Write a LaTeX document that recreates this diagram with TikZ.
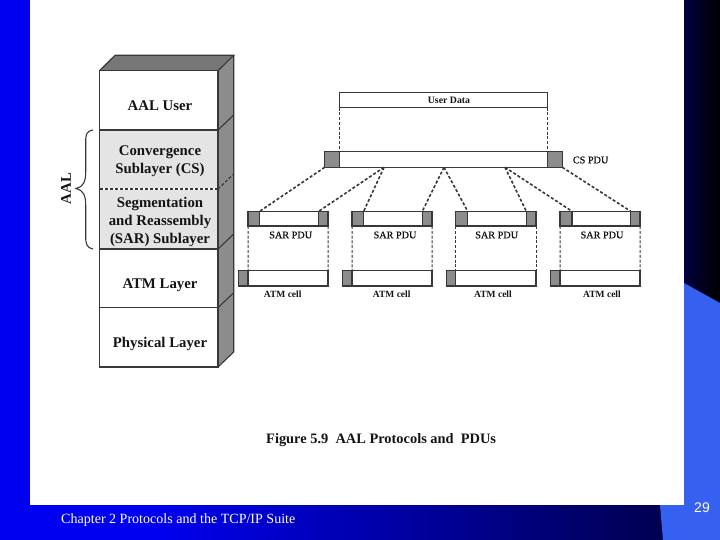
\documentclass[tikz,border=0pt]{standalone}
\usepackage{fontspec}
\setmainfont{Liberation Serif}
\newfontfamily\numfont{Liberation Sans}
\newfontfamily\medfont[FakeBold=0.6]{Liberation Serif}
\usetikzlibrary{calc}
\definecolor{slideblue}{HTML}{0000F0}
\definecolor{navy}{HTML}{000050}
\definecolor{panelblue}{HTML}{3560F0}
\definecolor{edgegray}{HTML}{383838}
\definecolor{sidegray}{HTML}{8C8C8C}
\definecolor{lightgray2}{HTML}{E4E4E4}
\definecolor{inkblack}{HTML}{141414}
\tikzset{
  rectnode/.style={draw=edgegray,line width=1.1pt,rectangle,inner sep=0pt,outer sep=0pt,anchor=center},
  whitebox/.style={rectnode,fill=white},
  graybox/.style={rectnode,fill=sidegray},
  sublayer/.style={rectnode,fill=lightgray2},
  dashline/.style={draw=edgegray,line width=1.6pt,dash pattern=on 3pt off 2pt},
  vdashline/.style={draw=edgegray,line width=1pt,dash pattern=on 3pt off 1.8pt},
  stacktext/.style={font=\fontsize{14.8}{18}\selectfont\bfseries,text=inkblack,inner sep=0pt,align=center},
  pdutext/.style={font=\fontsize{10.2}{12}\selectfont\medfont,text=inkblack,inner sep=0pt},
  celltext/.style={font=\fontsize{9.5}{12}\selectfont\bfseries,text=inkblack,inner sep=0pt},
  foottext/.style={text=white,inner sep=0pt}
}
\newcommand{\pdubox}[6]{%
  \pgfmathsetmacro{\pw}{#5-#3}\pgfmathsetmacro{\ph}{#6-#4}%
  \node[#2,minimum width=\pw pt,minimum height=\ph pt] (#1) at ({(#3+#5)/2},{(#4+#6)/2}) {};}
\begin{document}
\begin{tikzpicture}[x=1pt,y=-1pt]
\useasboundingbox (0,0) rectangle (720,540);
% slide background
\fill[white] (0,0) rectangle (720,540);
\fill[slideblue] (0,0) rectangle (30,540);
\fill[slideblue] (0,505) rectangle (150,540);
\shade[left color=slideblue,right color=navy,shading angle=90] (150,505) rectangle (665,540);
\shade[left color=navy!80!black,right color=black] (684,0) rectangle (720,305);
\fill[panelblue] (684,283) -- (720,303) -- (720,540) -- (663,540) -- (660,505) -- (684,505) -- cycle;
% stack sides
\fill[sidegray] (218,70.7) -- (233.7,55.3) -- (233.7,352) -- (218,367) -- cycle;
\fill[sidegray!85!black] (99.5,70.7) -- (115,55.3) -- (233.7,55.3) -- (218,70.7) -- cycle;
\draw[edgegray,line width=1.1pt] (99.5,70.7) -- (115,55.3) -- (233.7,55.3) -- (218,70.7);
\draw[edgegray,line width=1.1pt] (233.7,55.3) -- (233.7,352) -- (218,367);
\foreach \yy in {130,249,307.7} \draw[edgegray,line width=1.1pt] (218,\yy) -- (233.7,\yy-15);
% stack front
\pdubox{user}{whitebox}{99.5}{70.7}{218}{130}
\pdubox{convsub}{sublayer}{99.5}{130}{218}{189}
\pdubox{sarsub}{sublayer}{99.5}{189}{218}{249}
\pdubox{atmlayer}{whitebox}{99.5}{249}{218}{307.7}
\pdubox{phys}{whitebox}{99.5}{307.7}{218}{367}
\draw[white,line width=1.4pt] (convsub.south west) -- (convsub.south east);
\draw[dashline,line width=1.2pt] (convsub.south west) -- (convsub.south east);
\draw[dashline,line width=1.2pt] (convsub.south east) -- +(15.7,-15);
\node[stacktext] (tuser) at (160,105.5) {AAL User};
\node[stacktext] (tconv) at (160,161) {Convergence\\[-0.1pt]Sublayer (CS)};
\node[stacktext] (tsar) at (160,222) {Segmentation\\and Reassembly\\(SAR) Sublayer};
\node[stacktext] (tatm) at (160,285) {ATM Layer};
\node[stacktext] (tphys) at (160,344) {Physical Layer};
% brace
\draw[edgegray,line width=1.1pt] (93,130) .. controls (87,131) and (85.5,134) .. (85.7,142)
  -- (85.7,172) .. controls (85.7,182) and (83,187) .. (76,188.5)
  .. controls (83,190) and (85.7,195) .. (85.7,205)
  -- (85.7,236) .. controls (85.5,244) and (87,248) .. (93,249);
\node[stacktext,rotate=90] (taal) at (66,188.5) {AAL};
% user data and CS PDU
\pdubox{udata}{whitebox}{339.3}{92.3}{547.7}{107.7}
\node[font=\fontsize{9.8}{12}\selectfont\bfseries,text=inkblack,inner sep=0pt] (tudata) at (449,100.5) {User Data};
\pdubox{cspdu}{whitebox}{339.3}{151.7}{547.7}{167.3}
\pdubox{csl}{graybox}{324.7}{151.7}{339.3}{167.3}
\pdubox{csr}{graybox}{547.7}{151.7}{562.3}{167.3}
\node[pdutext,anchor=west] (tcs) at (572.7,160) {CS PDU};
\coordinate (csa) at (384,167.3);
\coordinate (csb) at (444,167.3);
\coordinate (csc) at (505,167.3);
\draw[vdashline] (udata.south west) -- (cspdu.north west);
\draw[vdashline] (udata.south east) -- (cspdu.north east);
% SAR PDUs
\pdubox{sarA}{whitebox}{248}{211.3}{328}{226}
\pdubox{sarAl}{graybox}{248}{211.3}{259.7}{226}
\pdubox{sarAr}{graybox}{318.7}{211.3}{328}{226}
\pdubox{sarB}{whitebox}{352}{211.3}{432}{226}
\pdubox{sarBl}{graybox}{352}{211.3}{363.7}{226}
\pdubox{sarBr}{graybox}{422.3}{211.3}{432}{226}
\pdubox{sarC}{whitebox}{455.7}{211.3}{536}{226}
\pdubox{sarCl}{graybox}{455.7}{211.3}{467.7}{226}
\pdubox{sarCr}{graybox}{526.3}{211.3}{536}{226}
\pdubox{sarD}{whitebox}{560}{211.3}{640}{226}
\pdubox{sarDl}{graybox}{560}{211.3}{572}{226}
\pdubox{sarDr}{graybox}{630.7}{211.3}{640}{226}
\node[pdutext] (tsarA) at (290.7,235) {SAR PDU};
\node[pdutext] (tsarB) at (395,235) {SAR PDU};
\node[pdutext] (tsarC) at (496.7,235) {SAR PDU};
\node[pdutext] (tsarD) at (602,235) {SAR PDU};
% connectors CS to SAR
\draw[dashline] (csl.south west) -- (sarAl.north east);
\draw[dashline] (csa) -- (sarAr.north west);
\draw[dashline] (csa) -- (sarBl.north east);
\draw[dashline] (csb) -- (sarBr.north west);
\draw[dashline] (csb) -- (sarCl.north east);
\draw[dashline] (csc) -- (sarCr.north west);
\draw[dashline] (csc) -- (sarDl.north east);
\draw[dashline] (csr.south east) -- (sarDr.north west);
% ATM cells
\pdubox{cellA}{whitebox}{238.7}{270.7}{328}{286}
\pdubox{cellAl}{graybox}{238.7}{270.7}{248}{286}
\pdubox{cellB}{whitebox}{342.7}{270.7}{432}{286}
\pdubox{cellBl}{graybox}{342.7}{270.7}{352}{286}
\pdubox{cellC}{whitebox}{446.7}{270.7}{536}{286}
\pdubox{cellCl}{graybox}{446.7}{270.7}{455.7}{286}
\pdubox{cellD}{whitebox}{550.7}{270.7}{640}{286}
\pdubox{cellDl}{graybox}{550.7}{270.7}{560}{286}
\node[celltext] (tcellA) at (282.7,294) {ATM cell};
\node[celltext] (tcellB) at (391.7,294) {ATM cell};
\node[celltext] (tcellC) at (493,294) {ATM cell};
\node[celltext] (tcellD) at (602,294) {ATM cell};
% SAR to cell
\foreach \n in {A,B,C,D} {
  \draw[vdashline] (sar\n.south west) -- (cell\n l.north east);
  \draw[vdashline] (sar\n.south east) -- (cell\n.north east);
}
% caption and footer
\node[font=\fontsize{14.4}{18}\selectfont\bfseries,text=inkblack,inner sep=0pt,anchor=west] (caption) at (266,440) {Figure 5.9\ \ AAL Protocols and\ \ PDUs};
\node[foottext,font=\fontsize{14.05}{18}\selectfont,anchor=west] (chapter) at (61,520.5) {Chapter 2 Protocols and the TCP/IP Suite};
\node[foottext,font=\fontsize{14}{16}\selectfont\numfont] (pageno) at (702,507.5) {29};
\end{tikzpicture}
\end{document}
